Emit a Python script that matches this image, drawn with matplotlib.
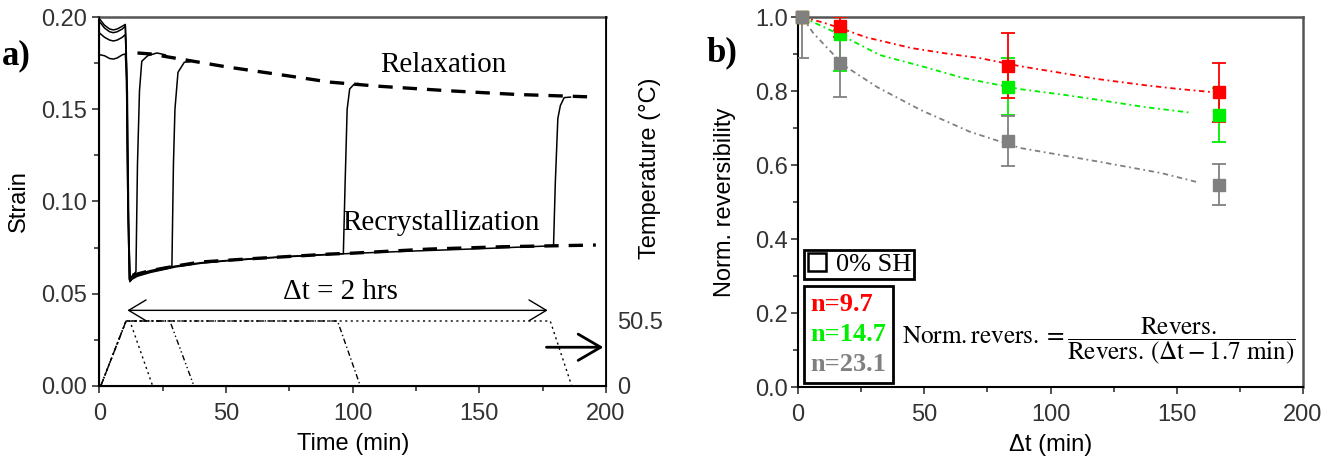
import matplotlib
matplotlib.use('Agg')
from matplotlib import pyplot as plt
from matplotlib.lines import Line2D
from matplotlib.font_manager import FontProperties

# ---- panel a data: strain during the four tests ----
t1 = [0.3, 2, 4, 5.5, 7, 9, 10.2, 10.6, 11.2, 11.8, 12.5, 13.5, 14.4, 15.0, 15.8, 16.7, 19, 22.7, 26]
s1 = [0.1985, 0.1955, 0.1935, 0.193, 0.1935, 0.195, 0.196, 0.18, 0.10, 0.0575, 0.059, 0.0605, 0.062,
      0.120, 0.160, 0.176, 0.179, 0.1805, 0.1795]
t2 = [0.3, 2, 4, 5.5, 7, 9, 10.2, 10.6, 11.2, 11.8, 13, 15, 20, 25, 28.6, 29.2, 29.8, 31, 33.5, 35.7]
s2 = [0.197, 0.194, 0.192, 0.1915, 0.192, 0.1935, 0.195, 0.175, 0.10, 0.058, 0.0595, 0.0605, 0.0625,
      0.064, 0.065, 0.120, 0.150, 0.170, 0.1755, 0.1757]
t3 = [0.3, 2, 4, 5.5, 7, 9, 10.2, 10.8, 11.3, 12, 13, 15, 20, 30, 40, 50, 60, 75, 90, 96.3, 97,
      97.8, 98.8, 100.5, 102]
s3 = [0.191, 0.189, 0.1875, 0.187, 0.1875, 0.189, 0.1905, 0.17, 0.10, 0.0565, 0.0585, 0.06, 0.062,
      0.065, 0.0668, 0.068, 0.069, 0.0703, 0.0713, 0.0717, 0.11, 0.150, 0.161, 0.1635, 0.1640]
t4 = [0.3, 2, 4, 5.5, 7, 9, 10.2, 11, 11.6, 12.2, 13, 15, 20, 30, 40, 50, 60, 75, 90, 100, 125,
      150, 170, 179.3, 180, 181, 182, 183.5, 186]
s4 = [0.1795, 0.179, 0.1775, 0.1772, 0.1778, 0.1795, 0.180, 0.16, 0.08, 0.057, 0.058, 0.0595,
      0.0615, 0.0645, 0.0665, 0.0678, 0.0688, 0.0701, 0.0712, 0.0719, 0.0732, 0.0744, 0.0755,
      0.076, 0.11, 0.145, 0.152, 0.1563, 0.1566]

# guide lines
relax_t = [15, 20, 35, 50, 75, 91, 110, 138, 165, 196]
relax_s = [0.1805, 0.180, 0.1765, 0.173, 0.168, 0.1647, 0.1625, 0.160, 0.158, 0.1566]
recr_t = [13, 20, 30, 40, 60, 91, 100, 130, 160, 196]
recr_s = [0.060, 0.0625, 0.065, 0.0672, 0.069, 0.0715, 0.072, 0.0742, 0.0755, 0.0764]

# temperature programmes (right axis)
temp_t = [[0.5, 10.5, 12, 21], [0.5, 10.5, 27.8, 37.3], [0.5, 10.5, 94, 103], [0.5, 10.5, 178, 186.5]]
temp_T = [0, 50.5, 50.5, 0]

# ---- panel b data ----
dt = [1.7, 16.7, 83.3, 166.7]
red = [1.0, 0.975, 0.868, 0.797]
red_lo = [0.0, 0.03, 0.088, 0.08]
red_hi = [0.0, 0.025, 0.089, 0.079]
green = [1.0, 0.955, 0.812, 0.735]
green_lo = [0.0, 0.10, 0.078, 0.074]
green_hi = [0.0, 0.045, 0.078, 0.073]
gray = [1.0, 0.875, 0.665, 0.547]
gray_lo = [0.11, 0.09, 0.067, 0.055]
gray_hi = [0.0, 0.09, 0.067, 0.055]

fit_red_t = [1.7, 10, 16.7, 27, 45, 60, 72, 88, 105, 119, 137, 150, 164]
fit_red = [1.0, 0.985, 0.97, 0.945, 0.916, 0.90, 0.889, 0.867, 0.848, 0.832, 0.816, 0.806, 0.797]
fit_green_t = [1.7, 16.7, 32.5, 50, 65.5, 88, 105, 119, 137, 156]
fit_green = [1.0, 0.952, 0.897, 0.865, 0.835, 0.805, 0.79, 0.776, 0.757, 0.741]
fit_gray_t = [1.7, 6, 18, 31.5, 48.5, 68, 88, 120, 144, 158]
fit_gray = [1.0, 0.957, 0.87, 0.81, 0.749, 0.69, 0.646, 0.608, 0.578, 0.554]

labels_n = ['n=9.7', 'n=14.7', 'n=23.1']
c_red, c_green, c_gray = '#ff0000', '#00ee00', '#808080'

plt.rcParams['font.family'] = ['Liberation Sans', 'DejaVu Sans']
plt.rcParams['mathtext.fontset'] = 'stix'
serif = 'Liberation Serif'
tick_col = '#333333'

fig = plt.figure(figsize=(13.3, 4.71), dpi=100)

# ================= panel a =================
ax = fig.add_axes([0.0748, 0.1805, 0.3808, 0.7834])
for t, s in [(t1, s1), (t2, s2), (t3, s3), (t4, s4)]:
    ax.plot(t, s, c='black', lw=1.1)
ax.plot(relax_t, relax_s, c='black', lw=2.4, dashes=(4.3, 3))
ax.plot(recr_t, recr_s, c='black', lw=2.4, dashes=(4.3, 3))

ax.set_xlim(0, 200)
ax.set_ylim(0, 0.20)
ax.set_xticks([0, 50, 100, 150, 200])
ax.set_xticks([25, 75, 125, 175], minor=True)
ax.set_yticks([0.00, 0.05, 0.10, 0.15, 0.20])
ax.set_yticks([0.025, 0.075, 0.125, 0.175], minor=True)
ax.set_yticklabels(['0.00', '0.05', '0.10', '0.15', '0.20'])
ax.tick_params(axis='both', which='major', labelsize=17, colors=tick_col, length=5, width=1.2)
ax.tick_params(axis='both', which='minor', length=3.5, width=1.2, colors=tick_col)
ax.tick_params(axis='x', pad=7)
ax.tick_params(axis='y', pad=4)
ax.set_xlabel('Time (min)', fontsize=17, labelpad=6)
ax.set_ylabel('Strain', fontsize=17, labelpad=8)
for side in ['left', 'bottom']:
    ax.spines[side].set_linewidth(1.5)
ax.spines['top'].set_color('#555555')
ax.spines['top'].set_linewidth(1.8)

ax.annotate('', xy=(11, 0.041), xytext=(177, 0.041),
            arrowprops=dict(arrowstyle='<->,head_length=0.5,head_width=0.3', lw=1.0,
                            color='black', mutation_scale=25, shrinkA=0, shrinkB=0))
ax.annotate('', xy=(199, 0.021), xytext=(176.5, 0.021), annotation_clip=False,
            arrowprops=dict(arrowstyle='->,head_length=0.6,head_width=0.35', lw=2.0,
                            color='black', mutation_scale=27, shrinkA=0, shrinkB=0))
ax.text(95, 0.051, '\u0394t = 2 hrs', family=serif, fontsize=21, ha='center', va='center')
ax.text(110.7, 0.170, 'Relaxation', family=serif, fontsize=21, ha='left', va='baseline')
ax.text(96, 0.0845, 'Recrystallization', family=serif, fontsize=21, ha='left', va='baseline')

ax_t = ax.twinx()
styles = [(0, (1.5, 2.5)), (0, (4, 2, 1, 2, 1, 2)), (0, (4, 2, 1, 2)), (0, (1.5, 2.5))]
for tt, ls in zip(temp_t, styles):
    ax_t.plot(tt, temp_T, c='black', lw=1.0, ls=ls)
ax_t.set_ylim(0, 286.7)
ax_t.set_yticks([0, 50.5])
ax_t.set_yticklabels(['0', '50.5'])
ax_t.tick_params(axis='y', labelsize=17, colors=tick_col, length=0, pad=8)
ax_t.set_ylabel('Temperature (\u00b0C)', fontsize=17)
ax_t.yaxis.set_label_coords(1.066, 0.59)
ax_t.spines['right'].set_linewidth(1.3)
ax_t.spines['top'].set_visible(False)

fig.text(2 / 1330, 1 - 64 / 471, 'a)', family=serif, fontsize=25, fontweight='bold',
         ha='left', va='baseline')

# ================= panel b =================
bx = fig.add_axes([0.6, 0.1783, 0.3797, 0.7856])
fit_ls = (0, (3, 2, 1, 2))
bx.plot(fit_gray_t, fit_gray, c=c_gray, lw=1.3, ls=fit_ls, zorder=2)
bx.plot(fit_green_t, fit_green, c=c_green, lw=1.3, ls=fit_ls, zorder=2)
bx.plot(fit_red_t, fit_red, c=c_red, lw=1.3, ls=fit_ls, zorder=2)
for y, lo, hi, c in [(green, green_lo, green_hi, c_green), (red, red_lo, red_hi, c_red),
                     (gray, gray_lo, gray_hi, c_gray)]:
    eb = bx.errorbar(dt, y, yerr=[lo, hi], fmt='s', color=c, ms=8.5, capsize=5,
                     elinewidth=1.3, capthick=1.3, zorder=3)
    eb[0].set_clip_on(False)

bx.set_xlim(0, 200)
bx.set_ylim(0, 1.0)
bx.set_xticks([0, 50, 100, 150, 200])
bx.set_xticks([25, 75, 125, 175], minor=True)
bx.set_yticks([0.0, 0.2, 0.4, 0.6, 0.8, 1.0])
bx.set_yticks([0.1, 0.3, 0.5, 0.7, 0.9], minor=True)
bx.set_yticklabels(['0.0', '0.2', '0.4', '0.6', '0.8', '1.0'])
bx.tick_params(axis='both', which='major', labelsize=17, colors=tick_col, length=5, width=1.2)
bx.tick_params(axis='both', which='minor', length=3.5, width=1.2, colors=tick_col)
bx.tick_params(axis='x', pad=7)
bx.tick_params(axis='y', pad=2)
bx.set_xlabel('\u0394t (min)', fontsize=17, labelpad=6)
bx.set_ylabel('Norm. reversibility', fontsize=17, labelpad=14)
for side in ['left', 'bottom']:
    bx.spines[side].set_linewidth(1.5)
for side in ['top', 'right']:
    bx.spines[side].set_color('#555555')
    bx.spines[side].set_linewidth(1.8)

h_sq = Line2D([], [], ls='none', marker='s', ms=13, mfc='white', mec='black', mew=1.8)
leg1 = bx.legend([h_sq], ['0% SH'], loc='upper left', bbox_to_anchor=(0.012, 0.370),
                 borderaxespad=0, fancybox=False, edgecolor='black', framealpha=1,
                 prop=FontProperties(family=serif, size=19), handlelength=0.8,
                 handletextpad=0.3, borderpad=0.1)
leg1.get_frame().set_linewidth(2)
bx.add_artist(leg1)

blank = [Line2D([], [], ls='none') for _ in labels_n]
leg2 = bx.legend(blank, labels_n, loc='upper left', bbox_to_anchor=(0.012, 0.273),
                 borderaxespad=0, fancybox=False, edgecolor='black', framealpha=1,
                 prop=FontProperties(family=serif, size=19, weight='bold'),
                 labelcolor=[c_red, c_green, c_gray], handlelength=0, handletextpad=0,
                 labelspacing=0.25, borderpad=0.25)
leg2.get_frame().set_linewidth(2)

formula = (r'$\mathrm{Norm.revers.} = \dfrac{\mathrm{Revers.}}'
           r'{\mathrm{Revers.}\,(\Delta\mathrm{t} - 1.7\ \mathrm{min})}$')
bx.text(0.206, 0.122, formula, transform=bx.transAxes, fontsize=18.2, ha='left', va='center')

fig.text(737 / 1330, 1 - 61 / 471, 'b)', family=serif, fontsize=25, fontweight='bold',
         ha='right', va='baseline')

fig.savefig('out.png', dpi=100)
